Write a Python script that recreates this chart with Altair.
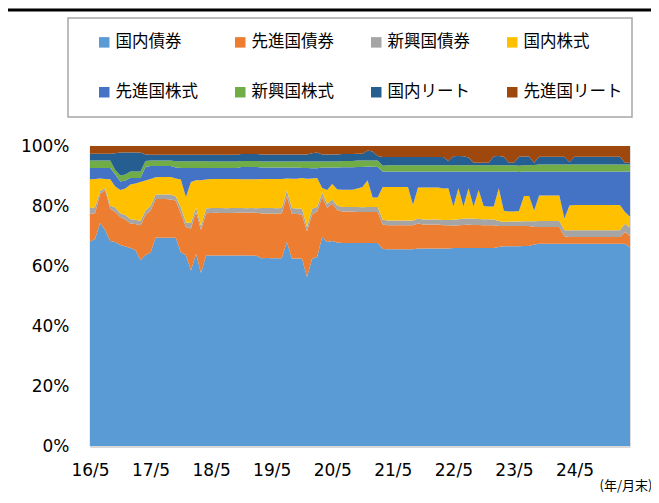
import altair as alt
import pandas as pd

series_names = ["国内債券", "先進国債券", "新興国債券", "国内株式",
                "先進国株式", "新興国株式", "国内リート", "先進国リート"]
series_colors = ["#5B9BD5", "#ED7D31", "#A5A5A5", "#FFC000",
                 "#4472C4", "#70AD47", "#255E91", "#9E480E"]

# month index 0 = 2016/5 ... 107 = 2025/4
x_tick_months = [0, 12, 24, 36, 48, 60, 72, 84, 96]
x_tick_labels = ["16/5", "17/5", "18/5", "19/5", "20/5", "21/5", "22/5", "23/5", "24/5"]
y_tick_values = [0, 0.2, 0.4, 0.6, 0.8, 1.0]

dom_bond = [
    68.2, 69.0, 74.3, 72.0, 68.3, 68.0, 67.0, 66.5, 66.0, 65.3,
    62.0, 63.7, 64.5, 69.5, 69.4, 69.4, 69.4, 69.4, 64.5, 63.7,
    58.5, 64.0, 57.7, 63.5, 63.5, 63.6, 63.5, 63.4, 63.5, 63.6,
    63.5, 63.4, 63.5, 63.3, 62.6, 62.7, 62.6, 62.5, 62.6, 68.0,
    62.5, 62.5, 62.5, 56.3, 62.4, 63.0, 69.7, 68.0, 68.3, 67.8,
    67.7, 67.7, 67.7, 67.7, 67.7, 67.7, 67.7, 67.7, 65.7, 65.6,
    65.6, 65.6, 65.6, 65.6, 65.6, 65.8, 65.8, 65.8, 65.8, 65.8,
    65.8, 65.8, 66.0, 66.0, 66.0, 66.0, 66.0, 66.0, 66.0, 66.0,
    66.0, 66.3, 66.6, 66.6, 66.6, 66.6, 66.7, 66.7, 67.2, 67.4,
    67.4, 67.4, 67.4, 67.4, 67.4, 67.4, 67.4, 67.4, 67.4, 67.4,
    67.4, 67.4, 67.4, 67.4, 67.4, 67.4, 67.4, 66.2,
]
adv_bond = [
    9.2, 8.6, 9.7, 13.3, 10.8, 10.0, 9.3, 9.0, 8.2, 8.7,
    11.6, 13.3, 14.0, 12.8, 12.9, 12.9, 12.8, 12.4, 13.0, 9.3,
    14.0, 14.0, 14.3, 14.1, 14.2, 14.2, 14.2, 14.2, 14.2, 14.2,
    14.3, 14.3, 14.3, 14.3, 14.9, 14.9, 14.9, 14.9, 14.9, 15.3,
    14.9, 14.8, 14.7, 15.3, 14.8, 15.2, 13.3, 11.3, 12.5, 10.8,
    10.5, 10.5, 10.5, 10.3, 10.3, 10.3, 10.3, 10.3, 8.1, 8.0,
    8.0, 8.0, 8.0, 8.0, 8.0, 8.4, 8.0, 8.0, 8.0, 8.0,
    7.8, 7.8, 7.4, 7.6, 7.7, 7.8, 7.7, 7.7, 7.6, 7.6,
    7.6, 7.0, 6.7, 6.7, 6.7, 6.7, 6.6, 6.6, 5.8, 5.6,
    5.6, 5.6, 5.6, 5.6, 2.5, 2.3, 2.3, 2.3, 2.3, 2.3,
    2.3, 2.3, 2.3, 2.3, 2.3, 2.3, 3.9, 3.8,
]
em_bond = [
    1.9, 2.0, 1.0, 0.7, 1.1, 1.5, 1.3, 1.5, 1.4, 1.4,
    1.4, 1.5, 1.5, 1.5, 1.5, 1.5, 1.6, 1.4, 2.0, 1.5,
    1.8, 1.5, 1.3, 1.6, 1.6, 1.6, 1.6, 1.6, 1.6, 1.6,
    1.5, 1.5, 1.5, 1.5, 1.8, 1.8, 1.8, 1.8, 1.8, 1.9,
    1.9, 1.9, 2.0, 1.4, 1.9, 1.5, 1.5, 1.4, 1.4, 1.5,
    1.5, 1.5, 1.5, 1.7, 1.6, 1.7, 1.7, 1.7, 1.6, 1.6,
    1.6, 1.6, 1.6, 1.6, 1.6, 1.6, 1.7, 1.7, 1.7, 1.7,
    1.7, 1.7, 2.0, 2.0, 2.1, 2.0, 2.1, 2.0, 2.0, 2.0,
    1.9, 1.7, 1.4, 1.5, 1.5, 1.5, 1.6, 1.6, 1.9, 2.0,
    2.0, 2.0, 2.0, 2.0, 2.0, 2.2, 2.2, 2.2, 2.2, 2.2,
    2.2, 2.2, 2.2, 2.2, 2.2, 2.2, 2.8, 2.8,
]
dom_equity = [
    9.6, 9.4, 4.2, 3.0, 8.7, 7.0, 7.7, 8.8, 11.6, 12.1,
    13.0, 10.0, 9.0, 5.8, 5.9, 5.9, 5.9, 6.0, 9.3, 8.5,
    13.7, 9.1, 15.3, 9.6, 9.7, 9.7, 9.7, 9.7, 9.7, 9.7,
    9.6, 9.6, 9.6, 9.6, 9.7, 9.7, 9.7, 9.7, 9.7, 4.0,
    9.8, 9.9, 10.1, 16.1, 10.1, 9.6, 1.5, 4.6, 5.1, 5.4,
    5.7, 5.7, 5.7, 6.1, 6.7, 8.9, 3.1, 3.1, 10.9, 11.1,
    11.1, 11.1, 11.1, 11.1, 5.2, 10.4, 10.7, 10.7, 10.7, 10.7,
    10.5, 10.6, 4.4, 10.3, 4.0, 10.1, 4.0, 9.6, 4.4, 4.2,
    4.3, 10.9, 3.7, 3.4, 3.4, 3.5, 8.4, 8.4, 3.6, 8.5,
    8.5, 8.5, 8.5, 8.5, 3.9, 8.3, 8.4, 8.4, 8.4, 8.4,
    8.4, 8.4, 8.4, 8.4, 8.4, 8.4, 3.9, 3.6,
]
adv_equity = [
    3.8, 3.7, 3.5, 3.7, 3.8, 4.0, 2.9, 2.7, 2.1, 1.8,
    1.3, 4.5, 4.3, 3.7, 3.6, 3.6, 3.6, 3.6, 3.9, 9.7,
    4.7, 4.1, 4.1, 3.9, 3.7, 3.7, 3.7, 3.7, 3.7, 3.7,
    4.1, 4.1, 4.1, 4.1, 3.8, 3.8, 3.8, 3.8, 3.8, 3.6,
    3.7, 3.7, 3.4, 3.6, 3.4, 3.3, 6.8, 7.5, 5.5, 7.3,
    7.5, 7.5, 7.5, 7.2, 6.7, 4.6, 10.3, 10.2, 5.2, 5.2,
    5.2, 5.2, 5.2, 5.2, 11.1, 5.3, 5.3, 5.3, 5.3, 5.3,
    5.7, 5.6, 11.7, 5.6, 11.7, 5.6, 11.7, 6.2, 11.5, 11.7,
    11.7, 5.6, 13.1, 13.3, 13.3, 13.0, 8.2, 8.2, 13.0, 8.0,
    8.0, 8.0, 8.0, 8.0, 15.7, 11.3, 11.2, 11.2, 11.2, 11.2,
    11.2, 11.2, 11.2, 11.2, 11.2, 11.2, 13.5, 15.1,
]
em_equity = [
    2.5, 2.5, 2.5, 2.5, 2.5, 1.5, 2.0, 2.0, 2.2, 2.2,
    2.2, 2.0, 1.9, 1.9, 1.9, 1.9, 1.9, 2.1, 2.2, 2.2,
    2.2, 2.2, 2.2, 2.2, 2.1, 2.1, 2.1, 2.1, 2.1, 2.1,
    2.0, 2.0, 2.0, 2.0, 2.0, 2.0, 2.0, 2.0, 2.0, 2.0,
    2.0, 2.0, 2.1, 2.1, 2.2, 2.2, 2.0, 2.0, 2.0, 2.0,
    2.1, 2.1, 2.1, 2.2, 2.2, 2.0, 2.1, 2.2, 1.9, 2.1,
    2.1, 2.1, 2.1, 2.1, 2.1, 2.1, 2.1, 2.1, 2.1, 2.1,
    2.1, 2.1, 2.1, 2.1, 2.1, 2.1, 2.1, 2.1, 2.1, 2.1,
    2.1, 2.1, 2.1, 2.1, 2.1, 2.1, 2.1, 2.1, 2.2, 2.3,
    2.3, 2.3, 2.3, 2.3, 2.3, 2.3, 2.3, 2.3, 2.3, 2.3,
    2.3, 2.3, 2.3, 2.3, 2.3, 2.3, 2.3, 2.3,
]
dom_reit = [
    2.2, 2.2, 2.2, 2.2, 2.2, 5.6, 7.6, 7.3, 6.3, 6.3,
    6.3, 2.2, 1.9, 1.9, 1.9, 1.9, 1.9, 2.2, 2.2, 2.2,
    2.2, 2.2, 2.2, 2.2, 2.3, 2.3, 2.3, 2.3, 2.3, 2.3,
    2.3, 2.3, 2.3, 2.3, 2.4, 2.4, 2.4, 2.4, 2.4, 2.4,
    2.4, 2.4, 2.4, 2.4, 2.8, 3.0, 2.4, 2.4, 2.4, 2.4,
    2.3, 2.3, 2.3, 2.2, 2.2, 3.3, 3.0, 1.5, 2.9, 2.7,
    2.7, 2.7, 2.7, 2.7, 2.7, 2.7, 2.7, 2.7, 2.7, 2.7,
    2.7, 1.4, 3.0, 3.1, 3.0, 2.6, 0.8, 0.8, 0.8, 0.8,
    3.0, 3.1, 2.8, 0.8, 0.8, 3.0, 2.9, 2.9, 0.7, 2.6,
    2.6, 2.6, 2.6, 2.6, 2.6, 0.8, 2.6, 2.6, 2.6, 2.6,
    2.6, 2.6, 2.6, 2.6, 2.6, 2.6, 0.6, 0.6,
]
adv_reit = [
    2.6, 2.6, 2.6, 2.6, 2.6, 2.4, 2.2, 2.2, 2.2, 2.2,
    2.2, 2.8, 2.9, 2.9, 2.9, 2.9, 2.9, 2.9, 2.9, 2.9,
    2.9, 2.9, 2.9, 2.9, 2.9, 2.9, 2.9, 2.9, 2.9, 2.9,
    2.7, 2.7, 2.7, 2.7, 2.8, 2.8, 2.8, 2.8, 2.8, 2.8,
    2.8, 2.8, 2.8, 2.8, 2.4, 2.2, 2.8, 2.8, 2.8, 2.8,
    2.7, 2.7, 2.7, 2.6, 2.6, 1.5, 1.8, 3.3, 3.7, 3.7,
    3.7, 3.7, 3.7, 3.7, 3.7, 3.7, 3.7, 3.7, 3.7, 3.7,
    3.7, 5.0, 3.4, 3.3, 3.4, 3.8, 5.6, 5.6, 5.6, 5.6,
    3.4, 3.3, 3.6, 5.6, 5.6, 3.6, 3.5, 3.5, 5.6, 3.6,
    3.6, 3.6, 3.6, 3.6, 3.6, 5.4, 3.6, 3.6, 3.6, 3.6,
    3.6, 3.6, 3.6, 3.6, 3.6, 3.6, 5.6, 5.6,
]

all_series = [dom_bond, adv_bond, em_bond, dom_equity,
              adv_equity, em_equity, dom_reit, adv_reit]
for s in all_series:
    assert len(s) == 108, len(s)

rows = []
for k, (name, vals) in enumerate(zip(series_names, all_series)):
    for i, v in enumerate(vals):
        rows.append({"m": i, "series": name, "order": k, "value": v})
df = pd.DataFrame(rows)

label_expr = "[" + ",".join("'" + t + "'" for t in x_tick_labels) + "][round(datum.value / 12)]"

JP = "Noto Sans CJK JP"
NUM = "DejaVu Sans"

area = alt.Chart(df).mark_area(interpolate="linear").encode(
    x=alt.X(
        "m:Q",
        scale=alt.Scale(domain=[0, 107], nice=False, zero=False),
        axis=alt.Axis(
            values=x_tick_months, labelExpr=label_expr, labelFlush=False,
            labelOverlap=False, ticks=False, grid=False,
            domainColor="#D9D9D9", domainWidth=3,
            labelFont=NUM, labelFontSize=17, labelColor="#000000", labelPadding=16,
            title="(年/月末)", titleFont=JP, titleFontSize=13,
            titleFontWeight="normal", titleColor="#000000",
            titleAlign="right", titleBaseline="middle", titleX=562, titleY=39,
        ),
    ),
    y=alt.Y(
        "value:Q", stack="normalize",
        scale=alt.Scale(domain=[0, 1], nice=False),
        axis=alt.Axis(
            values=y_tick_values, format=".0%", ticks=False,
            domainColor="#D9D9D9", domainWidth=2,
            grid=True, gridColor="#D9D9D9", gridDash=[2, 2], gridWidth=1.5,
            labelFont=NUM, labelFontSize=17, labelColor="#000000", labelPadding=21,
            title=None,
        ),
    ),
    color=alt.Color(
        "series:N",
        scale=alt.Scale(domain=series_names, range=series_colors),
        legend=alt.Legend(
            title=None, orient="none", legendX=6, legendY=-112,
            direction="horizontal", columns=4, gridAlign="all",
            symbolType="square", symbolSize=110, symbolStrokeWidth=0,
            labelFont=JP, labelFontSize=16.5, labelColor="#000000",
            labelOffset=3, columnPadding=17, rowPadding=33, padding=0,
            labelLimit=200,
        ),
    ),
    order=alt.Order("order:Q", sort="ascending"),
)

deco_df = pd.DataFrame({"k": [0]})
legend_box = alt.Chart(deco_df).mark_rect(
    fill="transparent", stroke="#A6A6A6", strokeWidth=1.5
).encode(
    x=alt.value(-22), x2=alt.value(542), y=alt.value(-128), y2=alt.value(-29)
)
frame = alt.Chart(deco_df).mark_rule(color="#000000", strokeWidth=3).encode(
    x=alt.value(-82), x2=alt.value(561), y=alt.value(-136)
)

chart = alt.layer(area, legend_box, frame).properties(
    width=540, height=300,
    padding={"left": 82, "top": 138, "right": 21, "bottom": 49},
    autosize=alt.AutoSizeParams(type="none"),
).configure_view(strokeWidth=0).configure(background="#ffffff")

chart.save("out.html", embed_options={"renderer": "svg", "actions": False})
